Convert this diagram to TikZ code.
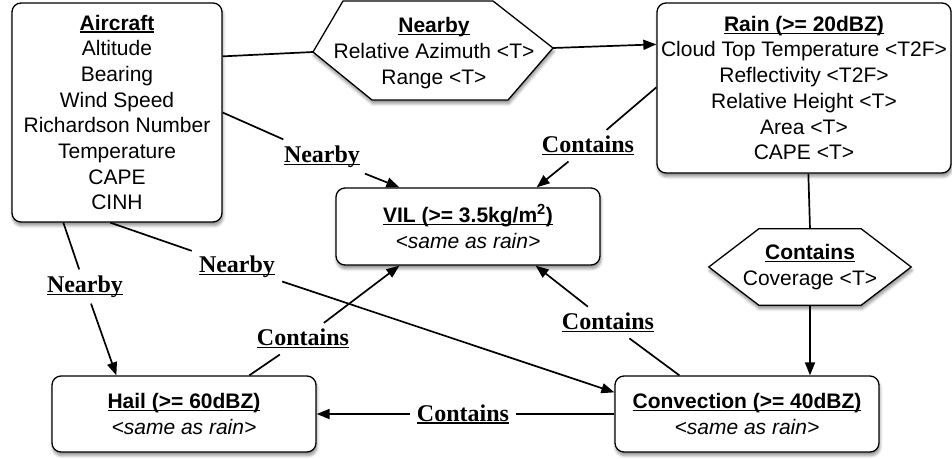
\documentclass[tikz,border=0pt]{standalone}
\usepackage{fontspec}
\setmainfont{Liberation Sans}
\newfontfamily\lblfont{Liberation Serif}
\usetikzlibrary{arrows.meta,shadows,shadows.blur,calc,backgrounds}
\newcommand\ulx[1]{\setbox0\hbox{#1}\rlap{\rule[-2.6pt]{\wd0}{1.3pt}}\box0}
\begin{document}
\begin{tikzpicture}[x=1pt,y=-1pt,
  shad/.style={blur shadow={shadow xshift=0.8pt,shadow yshift=-3.5pt,shadow blur radius=3pt,shadow blur steps=6,shadow opacity=45}},
  box/.style={draw,line width=1.3pt,rounded corners=9pt,fill=white,align=center,
    font=\fontsize{21}{25.7}\selectfont,inner sep=0pt,shad},
  hextxt/.style={align=center,font=\fontsize{21}{26}\selectfont,inner sep=0pt},
  hexshape/.style={draw,line width=1.3pt,fill=white,shad},
  lbl/.style={font=\lblfont\bfseries\fontsize{24}{28}\selectfont,inner xsep=7pt,inner ysep=6pt},
  conn/.style={line width=1.7pt},
  arr/.style={conn,-{Triangle[length=13pt,width=10pt]}},
]
\useasboundingbox (0,0) rectangle (952,458);

% boxes
\node[box,minimum width=210pt,minimum height=219pt] (air) at (117,112.5)
  {\ulx{\bfseries Aircraft}\\Altitude\\Bearing\\Wind Speed\\Richardson Number\\Temperature\\CAPE\\CINH};
\node[box,minimum width=294pt,minimum height=170pt] (rain) at (804,88)
  {\ulx{\bfseries Rain (>= 20dBZ)}\\Cloud Top Temperature <T2F>\\Reflectivity <T2F>\\Relative Height <T>\\Area <T>\\CAPE <T>};
\node[box,minimum width=264pt,minimum height=77pt] (vil) at (468,226.5)
  {\ulx{\bfseries VIL (>= 3.5kg/m\textsuperscript{2})}\\\itshape <same as rain>};
\node[box,minimum width=264pt,minimum height=76pt] (hail) at (184,414)
  {\ulx{\bfseries Hail (>= 60dBZ)}\\\itshape <same as rain>};
\node[box,minimum width=264pt,minimum height=76pt] (conv) at (747,414)
  {\ulx{\bfseries Convection (>= 40dBZ)}\\\itshape <same as rain>};

% hexagons
\node[hextxt] (nb) at (434,53) {\ulx{\bfseries Nearby}\\Relative Azimuth <T>\\Range <T>};
\coordinate (nbL) at (313,52);
\coordinate (nbR) at (553,48);
\node[hextxt,minimum width=202pt,minimum height=76pt] (ch) at (810,267)
  {\ulx{\bfseries Contains}\\Coverage <T>};
\begin{scope}[on background layer]
  \path[hexshape] (nbL) -- (343,1) -- (493,1) -- (nbR) -- (508,100) -- (372,100) -- cycle;
  \path[hexshape] (ch.west) -- ($(ch.north west)+(50,0)$) -- ($(ch.north east)+(-50,0)$)
    -- (ch.east) -- ($(ch.south east)+(-50,0)$) -- ($(ch.south west)+(50,0)$) -- cycle;
\end{scope}

% labels
\node[lbl] (l1) at (322,156.5) {\ulx{Nearby}};
\node[lbl] (l2) at (588,145.7) {\ulx{Contains}};
\node[lbl] (l3) at (85,286.5) {\ulx{Nearby}};
\node[lbl] (l4) at (237,266.5) {\ulx{Nearby}};
\node[lbl] (l5) at (303,338.7) {\ulx{Contains}};
\node[lbl] (l6) at (608,322.5) {\ulx{Contains}};
\node[lbl] (l7) at (463,414) {\ulx{Contains}};

% connectors
\draw[conn] ($(air.north east)+(0,54)$) -- (nbL);
\draw[arr] (nbR) -- ($(rain.north west)+(0,42)$);
\draw[conn] (air.east) -- (l1);
\draw[arr] (l1) -- ($(vil.north west)+(64,0)$);
\draw[conn] ($(rain.north west)+(0,85)$) -- (l2);
\draw[arr] (l2) -- ($(vil.north east)+(-64,0)$);
\draw[conn] ($(air.south west)+(52,0)$) -- (l3);
\draw[arr] (l3) -- ($(hail.north west)+(65,0)$);
\draw[conn] ($(air.south west)+(99,0)$) -- (l4);
\draw[arr] (l4) -- ($(conv.north west)+(0,17)$);
\draw[conn] ($(hail.north west)+(198,0)$) -- (l5);
\draw[arr] (l5) -- ($(vil.south west)+(64,0)$);
\draw[conn] ($(conv.north west)+(65,0)$) -- (l6);
\draw[arr] (l6) -- ($(vil.south east)+(-65,0)$);
\draw[conn] (conv.west) -- (l7);
\draw[arr] (l7) -- (hail.east);
\draw[conn] ($(rain.south west)+(152,0)$) -- (ch.north);
\draw[arr] (ch.south) -- (ch.south |- conv.north);
\end{tikzpicture}
\end{document}
